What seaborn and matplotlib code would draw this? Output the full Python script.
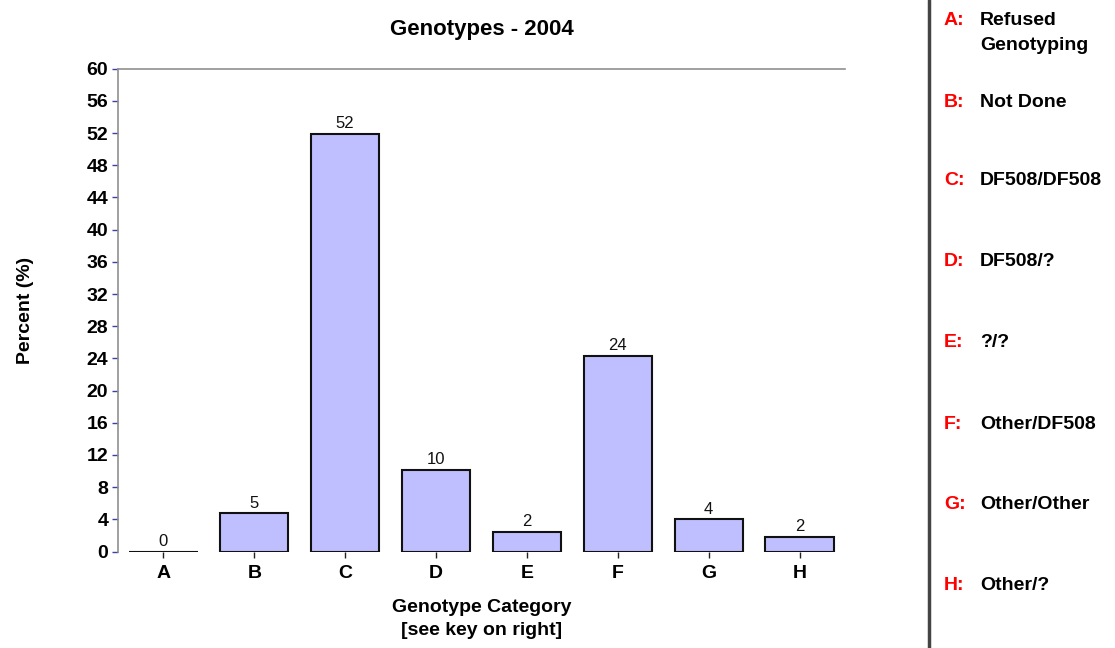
import matplotlib
matplotlib.use("Agg")
import matplotlib.pyplot as plt
import seaborn as sns
import pandas as pd

categories = ["A", "B", "C", "D", "E", "F", "G", "H"]
percents = [0.0, 4.75, 51.9, 10.1, 2.4, 24.3, 4.0, 1.8]
value_labels = ["0", "5", "52", "10", "2", "24", "4", "2"]
key_letters = ["A:", "B:", "C:", "D:", "E:", "F:", "G:", "H:"]
key_texts = ["Refused\nGenotyping", "Not Done", "DF508/DF508", "DF508/?", "?/?",
             "Other/DF508", "Other/Other", "Other/?"]
y_ticks = list(range(0, 61, 4))

sns.set_theme(style="white")
plt.rcParams['font.family'] = ['Liberation Sans', 'DejaVu Sans']
plt.rcParams['text.color'] = "#000000"
plt.rcParams['axes.labelcolor'] = "#000000"

df = pd.DataFrame({"cat": categories, "pct": percents})

fig = plt.figure(figsize=(11.15, 6.48), dpi=100)
fig.patch.set_facecolor("white")
ax = fig.add_axes([118/1115, 1-551.5/648, (845-118)/1115, (551.5-68.7)/648])

sns.barplot(data=df, x="cat", y="pct", ax=ax, color="#BFBFFF", saturation=1,
            width=0.75, edgecolor="#111111", linewidth=1.5)
ax.bar_label(ax.containers[0], labels=value_labels, padding=2, fontsize=12,
             color="#111111")

ax.set_xlim(-0.5, 7.5)
ax.set_ylim(0, 60)
ax.set_yticks(y_ticks)
ax.set_yticklabels([str(t) for t in y_ticks], fontsize=14, fontweight="bold")
ax.set_xticks(range(len(categories)))
ax.set_xticklabels(categories, fontsize=14, fontweight="bold")
ax.tick_params(axis="y", direction="out", length=4, width=1, color="#4040A0",
               labelcolor="#000000", left=True, pad=3)
ax.tick_params(axis="x", direction="out", length=4, width=1, color="#222222",
               labelcolor="#000000", bottom=True, pad=6)

for s in ["right", "bottom"]:
    ax.spines[s].set_visible(False)
for s in ["left", "top"]:
    ax.spines[s].set_visible(True)
    ax.spines[s].set_color("#909090")
    ax.spines[s].set_linewidth(1.2)

ax.set_xlabel("Genotype Category\n[see key on right]", fontsize=14,
              fontweight="bold", labelpad=12, linespacing=1.45)
ax.set_ylabel("Percent (%)", fontsize=14, fontweight="bold", labelpad=38)
ax.set_title("Genotypes - 2004", fontsize=16, fontweight="bold", pad=24)

# vertical separator
fig.add_artist(plt.Line2D([929/1115, 929/1115], [0, 1], color="#444444",
                          linewidth=2.5, transform=fig.transFigure))

key_top = [12, 94, 172, 253, 334, 416, 496, 577]
for letter, text, y in zip(key_letters, key_texts, key_top):
    fig.text(944/1115, 1 - y/648, letter, color="#FF0000", fontsize=14,
             fontweight="bold", va="top", ha="left")
    fig.text(980/1115, 1 - y/648, text, color="#000000", fontsize=14,
             fontweight="bold", va="top", ha="left", linespacing=1.6)

fig.savefig("out.png", dpi=100, facecolor="white")
